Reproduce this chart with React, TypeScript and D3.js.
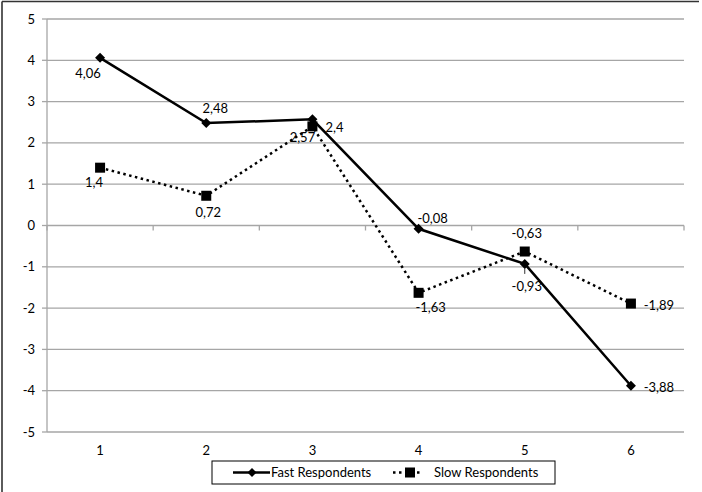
import React from "react";
import * as d3 from "d3";

const categories = ["1", "2", "3", "4", "5", "6"];
const fastValues = [4.06, 2.48, 2.57, -0.08, -0.93, -3.88];
const slowValues = [1.4, 0.72, 2.4, -1.63, -0.63, -1.89];
const yTicks = [5, 4, 3, 2, 1, 0, -1, -2, -3, -4, -5];
const fastLabelOffsets: [number, number][] = [[-12, 16], [9, -15], [-10, 18], [14, -10], [2, 23], [28, 2]];
const slowLabelOffsets: [number, number][] = [[-6, 15], [2, 17], [22, 1], [12, 15], [2, -18], [28, 2]];
const seriesNames = ["Fast Respondents", "Slow Respondents"];

const W = 702;
const H = 492;
const left = 47;
const right = 684;
const top = 19;
const bottom = 432;
const font = "Lato, 'Open Sans', sans-serif";
const fs = 13;
const fmt = (v: number) => String(v).replace(".", ",");

export default function App() {
  const x = d3.scaleBand<string>().domain(categories).range([left, right]);
  const y = d3.scaleLinear().domain([-5, 5]).range([bottom, top]);
  const cx = (c: string) => (x(c) ?? 0) + x.bandwidth() / 2;
  const line = d3
    .line<number>()
    .x((_, i) => cx(categories[i]))
    .y((d) => y(d));
  const grid = "#a6a6a6";
  const boundaries = categories.map((c) => x(c) ?? 0).concat([right]);

  return (
    <div style={{ position: "fixed", left: 0, top: 0 }}>
      <svg width={W} height={H} style={{ display: "block", background: "#fff" }}>
        <line x1={2} x2={699} y1={1.5} y2={1.5} stroke="#333" strokeWidth={1.6} />
        <line x1={2} x2={2} y1={1.5} y2={H} stroke="#333" strokeWidth={1.6} />
        {yTicks.map((t) => (
          <g key={t}>
            <line x1={left} x2={right} y1={y(t)} y2={y(t)} stroke={grid} strokeWidth={1.3} />
            <line x1={left - 5} x2={left} y1={y(t)} y2={y(t)} stroke={grid} strokeWidth={1.3} />
            <text x={35} y={y(t) + 4.5} textAnchor="end" fontFamily={font} fontSize={fs} fill="#000">
              {t}
            </text>
          </g>
        ))}
        <line x1={left} x2={left} y1={top} y2={bottom} stroke={grid} strokeWidth={1.3} />
        {boundaries.map((b, i) => (
          <line key={i} x1={b} x2={b} y1={y(0)} y2={y(0) + 5} stroke={grid} strokeWidth={1.3} />
        ))}
        {categories.map((c) => (
          <text key={c} x={cx(c)} y={455} textAnchor="middle" fontFamily={font} fontSize={fs} fill="#000">
            {c}
          </text>
        ))}
        <path d={line(slowValues) ?? ""} fill="none" stroke="#000" strokeWidth={2.5} strokeDasharray="2.5 3.5" />
        <path d={line(fastValues) ?? ""} fill="none" stroke="#000" strokeWidth={2.5} />
        {slowValues.map((v, i) => (
          <rect key={i} x={cx(categories[i]) - 5} y={y(v) - 5} width={10} height={10} fill="#000" />
        ))}
        {fastValues.map((v, i) => {
          const px = cx(categories[i]);
          const py = y(v);
          return <path key={i} d={`M${px},${py - 5}L${px + 5},${py}L${px},${py + 5}L${px - 5},${py}Z`} fill="#000" />;
        })}
        <line x1={cx(categories[4])} x2={cx(categories[4])} y1={y(fastValues[4]) + 4} y2={y(fastValues[4]) + 10} stroke="#333" strokeWidth={1} />
        {fastValues.map((v, i) => (
          <text key={i} x={cx(categories[i]) + fastLabelOffsets[i][0]} y={y(v) + fastLabelOffsets[i][1] + 4.5} textAnchor="middle" fontFamily={font} fontSize={fs} fill="#000">
            {fmt(v)}
          </text>
        ))}
        {slowValues.map((v, i) => (
          <text key={i} x={cx(categories[i]) + slowLabelOffsets[i][0]} y={y(v) + slowLabelOffsets[i][1] + 4.5} textAnchor="middle" fontFamily={font} fontSize={fs} fill="#000">
            {fmt(v)}
          </text>
        ))}
        <rect x={212} y={461} width={343} height={23} fill="#fff" stroke="#000" strokeWidth={1} />
        <line x1={233} x2={270} y1={472.5} y2={472.5} stroke="#000" strokeWidth={2.5} />
        <path d="M252,468L256.5,472.5L252,477L247.5,472.5Z" fill="#000" />
        <text x={271} y={477} fontFamily={font} fontSize={fs} fill="#000">{seriesNames[0]}</text>
        <line x1={393} x2={423} y1={472.5} y2={472.5} stroke="#000" strokeWidth={2.5} strokeDasharray="2.5 3.5" />
        <rect x={405} y={467.5} width={10} height={10} fill="#000" />
        <text x={434} y={477} fontFamily={font} fontSize={fs} fill="#000">{seriesNames[1]}</text>
      </svg>
    </div>
  );
}
